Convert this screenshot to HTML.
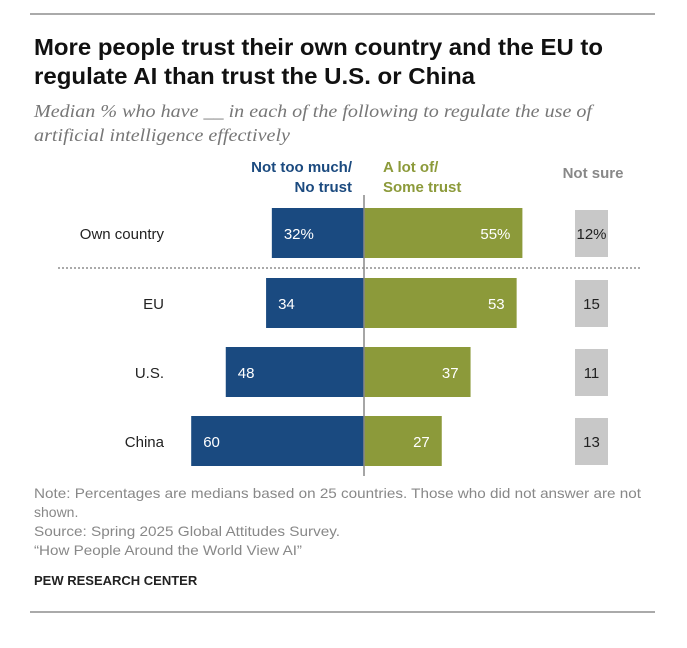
<!DOCTYPE html>
<html><head><meta charset="utf-8"><style>
body{margin:0;background:#fff;width:687px;height:643px;overflow:hidden;font-family:"Liberation Sans",sans-serif;}
</style></head><body>
<svg width="687" height="643" xmlns="http://www.w3.org/2000/svg">
<line x1="30" y1="14" x2="655" y2="14" stroke="#555" stroke-width="1"/>
<text x="34" y="55" font-size="23" font-weight="bold" fill="#111" textLength="569" lengthAdjust="spacingAndGlyphs">More people trust their own country and the EU to</text>
<text x="34" y="84" font-size="23" font-weight="bold" fill="#111" textLength="441" lengthAdjust="spacingAndGlyphs">regulate AI than trust the U.S. or China</text>
<text x="34" y="117" font-size="18" font-style="italic" font-family="Liberation Serif,serif" fill="#777" textLength="558" lengthAdjust="spacingAndGlyphs">Median % who have __ in each of the following to regulate the use of</text>
<text x="34" y="141" font-size="18" font-style="italic" font-family="Liberation Serif,serif" fill="#777" textLength="256" lengthAdjust="spacingAndGlyphs">artificial intelligence effectively</text>
<g font-size="15" font-weight="bold">
<text x="352" y="172" text-anchor="end" fill="#1b4a7f">Not too much/</text>
<text x="352" y="192" text-anchor="end" fill="#1b4a7f">No trust</text>
<text x="383" y="172" fill="#8c9a3a">A lot of/</text>
<text x="383" y="192" fill="#8c9a3a">Some trust</text>
<text x="593" y="178" text-anchor="middle" fill="#888">Not sure</text>
</g>
<g id="bars"></g>
<line x1="58" y1="268" x2="640" y2="268" stroke="#555" stroke-dasharray="2,2"/>
<line x1="364" y1="195" x2="364" y2="476" stroke="#888" stroke-width="1.5"/>
<g font-size="14" fill="#888">
<text x="34" y="498" textLength="607" lengthAdjust="spacingAndGlyphs">Note: Percentages are medians based on 25 countries. Those who did not answer are not</text>
<text x="34" y="517">shown.</text>
<text x="34" y="536" textLength="306" lengthAdjust="spacingAndGlyphs">Source: Spring 2025 Global Attitudes Survey.</text>
<text x="34" y="555" textLength="268" lengthAdjust="spacingAndGlyphs">“How People Around the World View AI”</text>
</g>
<text x="34" y="585" font-size="13" font-weight="bold" fill="#222">PEW RESEARCH CENTER</text>
<line x1="30" y1="612" x2="655" y2="612" stroke="#555" stroke-width="1"/>
</svg>
<script>
const categories=["Own country","EU","U.S.","China"];
const noTrust=[32,34,48,60];
const trust=[55,53,37,27];
const notSure=[12,15,11,13];
const ns="http://www.w3.org/2000/svg";
const g=document.getElementById('bars');
const cx=364,scale=2.88,rowY=[208,278,347,416],bh=50;
function x(v){return v*scale;}
function mk(tag,attrs){const e=document.createElementNS(ns,tag);for(const k in attrs)e.setAttribute(k,attrs[k]);g.appendChild(e);return e;}
categories.forEach((c,i)=>{
 const y=rowY[i];const pct=i===0?'%':'';
 let t=mk('text',{x:164,y:y+bh/2+6,'text-anchor':'end','font-size':15,fill:'#222'});t.textContent=c;
 
 
 let r=mk('rect',{x:cx-x(noTrust[i]),y:y,width:x(noTrust[i]),height:bh,fill:'#1a4a80'});
 
 
 t=mk('text',{x:cx-x(noTrust[i])+12,y:y+bh/2+6,'font-size':15,fill:'#fff'});t.textContent=noTrust[i]+pct;
 
 
 r=mk('rect',{x:cx,y:y,width:x(trust[i]),height:bh,fill:'#8c9a3a'});
 
 
 t=mk('text',{x:cx+x(trust[i])-12,y:y+bh/2+6,'text-anchor':'end','font-size':15,fill:'#fff'});t.textContent=trust[i]+pct;
 
 
 r=mk('rect',{x:575,y:y+2,width:33,height:bh-3,fill:'#c8c8c8'});
 
 
 t=mk('text',{x:591.5,y:y+bh/2+6,'text-anchor':'middle','font-size':15,fill:'#222'});t.textContent=notSure[i]+pct;
 
 
});
</script>
</body></html>
